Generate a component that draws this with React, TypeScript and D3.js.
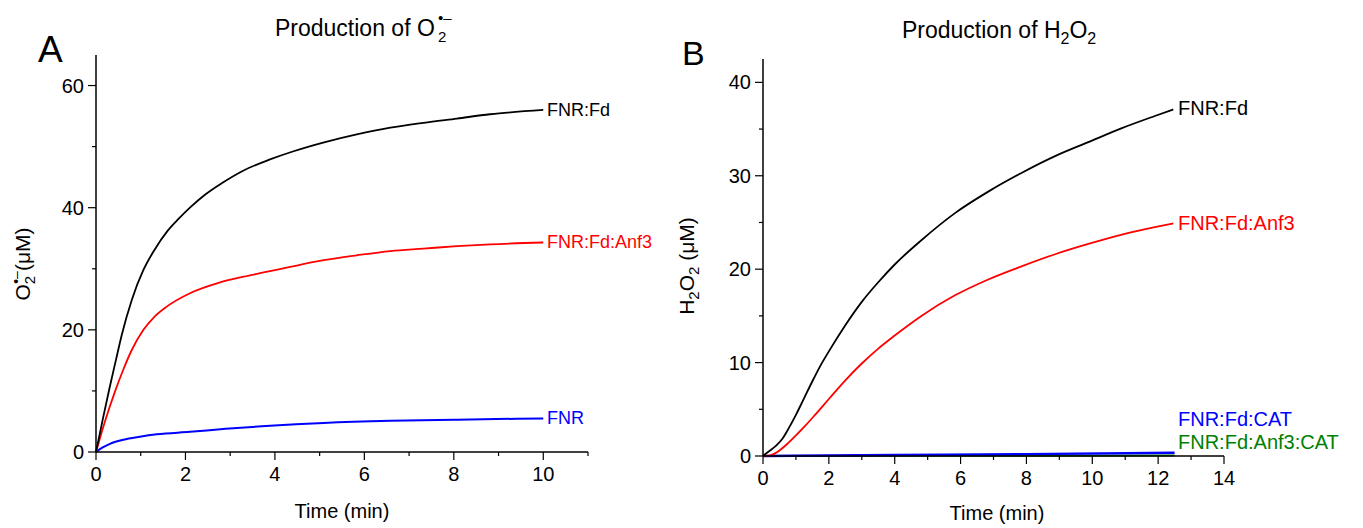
import React from "react";
import * as d3 from "d3";

// ---------- Panel A data (O2•− production) ----------
const timeFnrFdA = [0, 0.15, 0.3, 0.45, 0.57, 0.8, 1.06, 1.3, 1.6, 1.85, 2.1, 2.45, 2.81, 3.3, 3.89, 4.4, 5.1, 5.83, 6.58, 7.32, 8.07, 8.81, 10];
const fnrFdA = [0, 5.3, 10.4, 15.2, 19.0, 24.9, 29.8, 33.0, 36.2, 38.2, 40, 42.2, 44, 46.1, 47.9, 49.2, 50.7, 52, 53.1, 53.9, 54.6, 55.3, 56];
const timeFnrFdAnf3A = [0, 0.2, 0.43, 0.6, 0.8, 1.06, 1.3, 1.58, 2.1, 2.74, 3.3, 3.89, 4.34, 5.09, 5.83, 6.58, 7.32, 8.07, 8.81, 10];
const fnrFdAnf3A = [0, 5, 10, 13.3, 16.7, 20, 22.1, 23.8, 26, 27.7, 28.7, 29.6, 30.3, 31.4, 32.2, 32.9, 33.3, 33.7, 34, 34.3];
const timeFnrA = [0, 0.15, 0.3, 0.61, 0.98, 1.36, 2.1, 2.9, 3.89, 5.09, 6.58, 8.07, 10];
const fnrA = [0, 0.75, 1.3, 2.0, 2.5, 2.9, 3.3, 3.8, 4.3, 4.75, 5.1, 5.3, 5.5];
const ticksAx = [0, 2, 4, 6, 8, 10];
const minorAx = [1, 3, 5, 7, 9, 11];
const ticksAy = [0, 20, 40, 60];
const minorAy = [10, 30, 50];

// ---------- Panel B data (H2O2 production) ----------
const timeFnrFdB = [0, 0.16, 0.4, 0.6, 0.77, 1.0, 1.25, 1.5, 1.75, 2.0, 2.5, 3.0, 3.5, 4.0, 4.81, 5.83, 6.84, 7.85, 8.87, 9.88, 10.9, 11.9, 12.46];
const fnrFdB = [0, 0.45, 1.1, 1.9, 2.9, 4.4, 6.2, 8.0, 9.7, 11.2, 14.0, 16.5, 18.6, 20.5, 23.1, 26.0, 28.3, 30.3, 32.1, 33.6, 35.1, 36.4, 37.1];
const timeFnrFdAnf3B = [0, 0.2, 0.4, 0.77, 1.0, 1.3, 1.58, 2.0, 2.5, 3.0, 3.5, 4.0, 4.81, 5.83, 6.84, 7.85, 8.87, 9.88, 10.9, 11.9, 12.46];
const fnrFdAnf3B = [0, 0.05, 0.35, 1.4, 2.2, 3.3, 4.4, 6.1, 8.1, 9.9, 11.5, 12.9, 15.0, 17.2, 18.9, 20.3, 21.6, 22.7, 23.7, 24.5, 24.9];
const timeCatB = [0, 4, 8, 12.5];
const fnrFdCatB = [0, 0.1, 0.2, 0.35];
const fnrFdAnf3CatB = [0, 0.02, 0.04, 0.06];
const ticksBx = [0, 2, 4, 6, 8, 10, 12, 14];
const minorBx = [1, 3, 5, 7, 9, 11, 13];
const ticksBy = [0, 10, 20, 30, 40];
const minorBy = [5, 15, 25, 35];

const FONT = "Arial, 'Liberation Sans', Helvetica, sans-serif";

type Series = { t: number[]; v: number[]; color: string; width: number };
type Lbl = { text: string; color: string; y: number };

function Panel(props: {
  x0: number; x1: number; y0: number; y1: number;
  xDom: [number, number]; yDom: [number, number];
  xTicks: number[]; xMinor: number[]; yTicks: number[]; yMinor: number[];
  series: Series[]; labels: Lbl[]; labelX: number; labelSize: number;
}) {
  const { x0, x1, y0, y1, xDom, yDom, xTicks, xMinor, yTicks, yMinor, series, labels, labelX, labelSize } = props;
  const xs = d3.scaleLinear().domain(xDom).range([x0, x1]);
  const ys = d3.scaleLinear().domain(yDom).range([y0, y1]);
  const line = d3.line<[number, number]>().x(d => xs(d[0])).y(d => ys(d[1])).curve(d3.curveMonotoneX);
  return (
    <g>
      {series.map((s, i) => (
        <path key={i} d={line(s.t.map((t, j) => [t, s.v[j]] as [number, number])) || ""}
          fill="none" stroke={s.color} strokeWidth={s.width} strokeLinejoin="round" />
      ))}
      <line x1={x0} x2={x1} y1={y0} y2={y0} stroke="#000" strokeWidth={1.5} />
      <line x1={x0} x2={x0} y1={y0} y2={y1} stroke="#000" strokeWidth={1.5} />
      {xTicks.map(t => (
        <g key={"xt" + t}>
          <line x1={xs(t)} x2={xs(t)} y1={y0} y2={y0 + 8} stroke="#000" strokeWidth={1.2} />
          <text x={xs(t)} y={y0 + 29} textAnchor="middle" fontSize={20} fontFamily={FONT}>{t}</text>
        </g>
      ))}
      {xMinor.map(t => (
        <line key={"xm" + t} x1={xs(t)} x2={xs(t)} y1={y0} y2={y0 + 4} stroke="#000" strokeWidth={1.2} />
      ))}
      {yTicks.map(t => (
        <g key={"yt" + t}>
          <line x1={x0} x2={x0 - 8} y1={ys(t)} y2={ys(t)} stroke="#000" strokeWidth={1.2} />
          <text x={x0 - 12} y={ys(t) + 7} textAnchor="end" fontSize={20} fontFamily={FONT}>{t}</text>
        </g>
      ))}
      {yMinor.map(t => (
        <line key={"ym" + t} x1={x0} x2={x0 - 4} y1={ys(t)} y2={ys(t)} stroke="#000" strokeWidth={1.2} />
      ))}
      {labels.map((l, i) => (
        <text key={"l" + i} x={labelX} y={l.y + labelSize * 0.36} fontSize={labelSize} fontFamily={FONT} fill={l.color}>{l.text}</text>
      ))}
    </g>
  );
}

export default function App() {
  return (
    <svg width={1363} height={528} style={{ position: "absolute", left: 0, top: 0, background: "#fff" }}>
      {/* Panel A */}
      <text x={38} y={62} fontSize={37} fontFamily={FONT}>A</text>
      <text x={275} y={36} fontSize={23} fontFamily={FONT}>Production of O</text>
      <text x={438} y={42} fontSize={15} fontFamily={FONT}>2</text>
      <text x={438} y={23} fontSize={15} fontFamily={FONT}>•–</text>
      <Panel x0={96} x1={588} y0={452} y1={55} xDom={[0, 11]} yDom={[0, 65]}
        xTicks={ticksAx} xMinor={minorAx} yTicks={ticksAy} yMinor={minorAy}
        series={[
          { t: timeFnrA, v: fnrA, color: "#0000ff", width: 2 },
          { t: timeFnrFdAnf3A, v: fnrFdAnf3A, color: "#ff0000", width: 1.8 },
          { t: timeFnrFdA, v: fnrFdA, color: "#000000", width: 1.8 },
        ]}
        labelX={547} labelSize={18}
        labels={[
          { text: "FNR:Fd", color: "#000", y: 110 },
          { text: "FNR:Fd:Anf3", color: "#ff0000", y: 242 },
          { text: "FNR", color: "#0000ff", y: 418 },
        ]} />
      <text x={342} y={518} textAnchor="middle" fontSize={20} fontFamily={FONT}>Time (min)</text>
      <text transform="translate(30,264) rotate(-90)" textAnchor="middle" fontSize={21} fontFamily={FONT}>
        O<tspan dy={5} fontSize={15}>2</tspan><tspan dx={-8} dy={-14} fontSize={14}>•–</tspan><tspan dy={9}>(μM)</tspan>
      </text>

      {/* Panel B */}
      <text x={682} y={65} fontSize={34} fontFamily={FONT}>B</text>
      <text x={902} y={38} fontSize={23} fontFamily={FONT}>
        Production of H<tspan dy={6} fontSize={16}>2</tspan><tspan dy={-6}>O</tspan><tspan dy={6} fontSize={16}>2</tspan>
      </text>
      <Panel x0={763} x1={1224} y0={456} y1={59} xDom={[0, 14]} yDom={[0, 42.5]}
        xTicks={ticksBx} xMinor={minorBx} yTicks={ticksBy} yMinor={minorBy}
        series={[
          { t: timeCatB, v: fnrFdAnf3CatB, color: "#008000", width: 2 },
          { t: timeCatB, v: fnrFdCatB, color: "#0000ff", width: 2.4 },
          { t: timeFnrFdAnf3B, v: fnrFdAnf3B, color: "#ff0000", width: 1.8 },
          { t: timeFnrFdB, v: fnrFdB, color: "#000000", width: 1.8 },
        ]}
        labelX={1178} labelSize={20}
        labels={[
          { text: "FNR:Fd", color: "#000", y: 108 },
          { text: "FNR:Fd:Anf3", color: "#ff0000", y: 223 },
          { text: "FNR:Fd:CAT", color: "#0000ff", y: 419 },
          { text: "FNR:Fd:Anf3:CAT", color: "#008000", y: 442 },
        ]} />
      <text x={997} y={520} textAnchor="middle" fontSize={20} fontFamily={FONT}>Time (min)</text>
      <text transform="translate(694,266) rotate(-90)" textAnchor="middle" fontSize={21} fontFamily={FONT}>
        H<tspan dy={5} fontSize={15}>2</tspan><tspan dy={-5}>O</tspan><tspan dy={5} fontSize={15}>2</tspan><tspan dy={-5}> (μM)</tspan>
      </text>
    </svg>
  );
}
